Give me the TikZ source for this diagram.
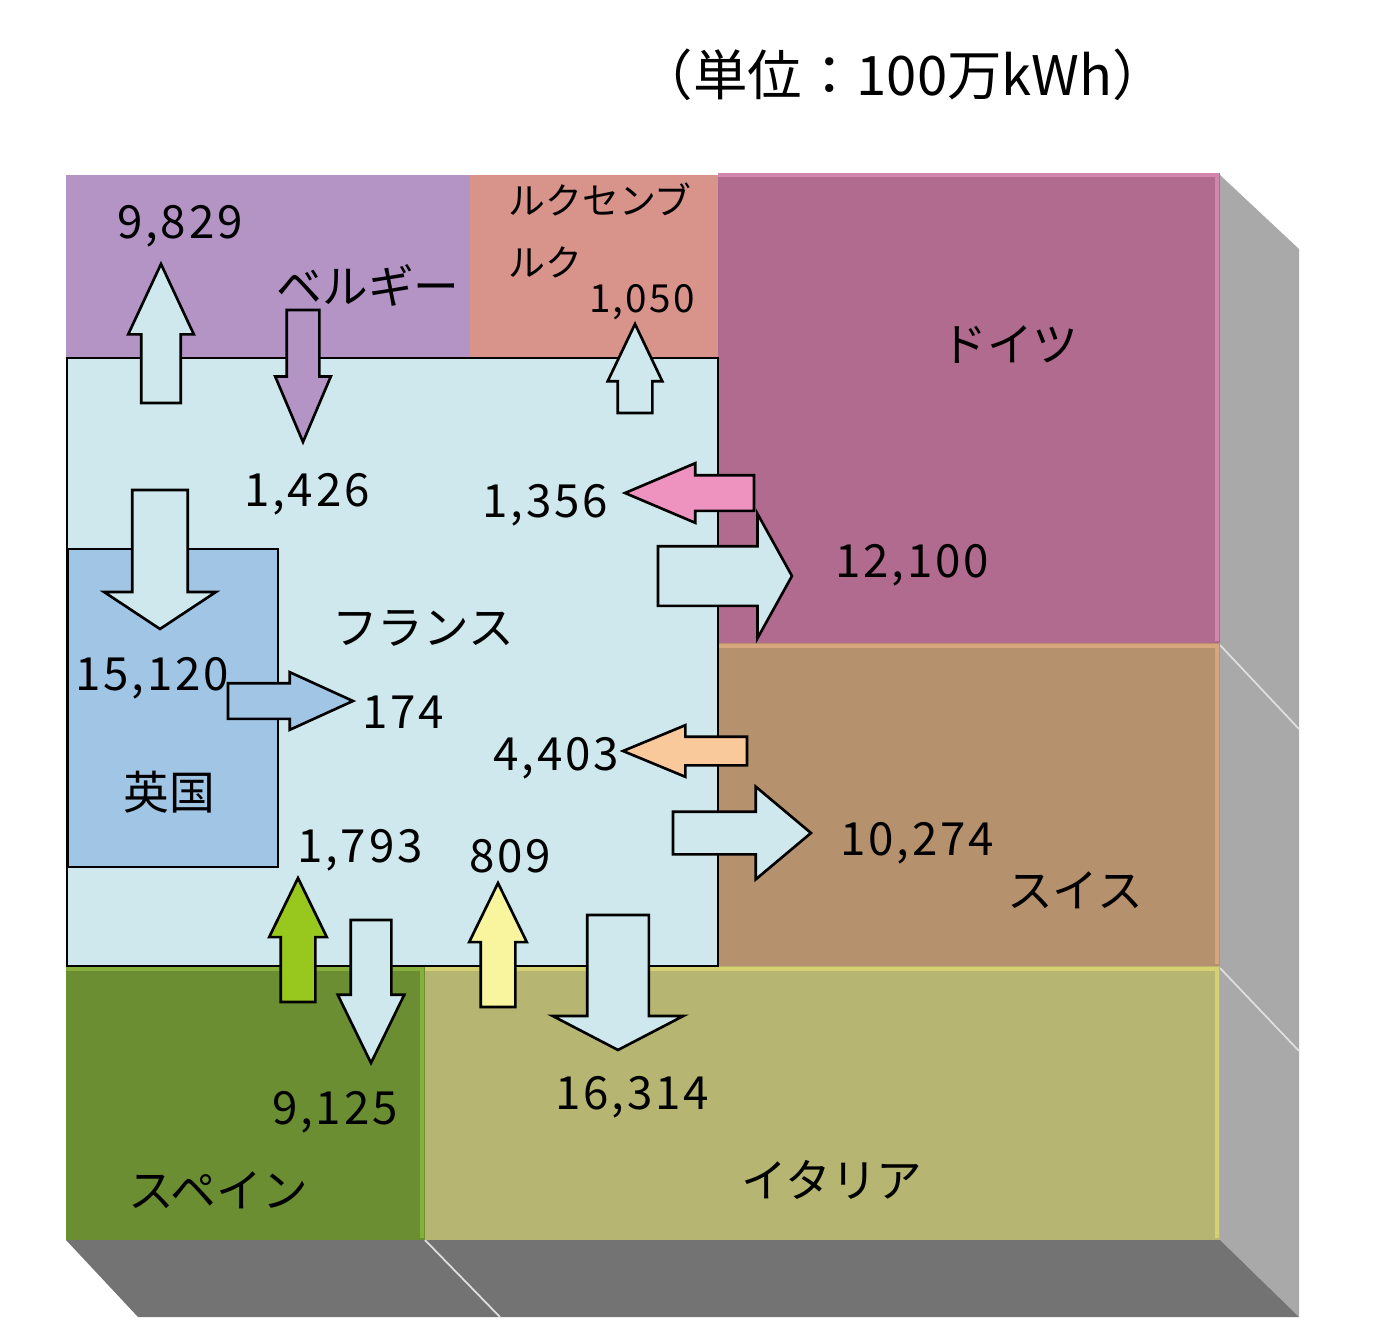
\documentclass[tikz,border=0pt]{standalone}
\usepackage{fontspec}
\newfontfamily\jpfont{Noto Sans CJK JP}
\newfontfamily\numfont[LetterSpace=6]{Noto Sans CJK JP}
\usetikzlibrary{shapes.arrows}

\definecolor{belgcol}{HTML}{B493C5}
\definecolor{luxcol}{HTML}{D8938B}
\definecolor{germcol}{HTML}{B06B8E}
\definecolor{germedge}{HTML}{D286AE}
\definecolor{swisscol}{HTML}{B5916D}
\definecolor{swissedge}{HTML}{D6A67C}
\definecolor{italcol}{HTML}{B6B672}
\definecolor{italedge}{HTML}{D3D170}
\definecolor{spaincol}{HTML}{6C8E32}
\definecolor{spainedge}{HTML}{86B03A}
\definecolor{francol}{HTML}{CFE8ED}
\definecolor{ukcol}{HTML}{A1C5E5}
\definecolor{pinkarr}{HTML}{EE93BF}
\definecolor{peacharr}{HTML}{FAC99B}
\definecolor{greenarr}{HTML}{98C71E}
\definecolor{yellowarr}{HTML}{F8F59E}
\definecolor{sidecol}{HTML}{A9A9A9}
\definecolor{floorcol}{HTML}{737373}

\begin{document}
\begin{tikzpicture}[x=0.02cm, y=-0.02cm,
    flow/.style={single arrow, draw=black, line width=1.5pt, inner xsep=0pt, outer sep=0pt, anchor=tail},
    lbl/.style={font=\jpfont\fontsize{26}{30}\selectfont, inner sep=0pt},
    num/.style={font=\numfont\fontsize{26}{30}\selectfont, inner sep=0pt},
    smallnum/.style={font=\numfont\fontsize{22}{26}\selectfont, inner sep=0pt},
    faceline/.style={draw=white!75!gray, line width=1pt}]
\useasboundingbox (0,0) rectangle (1380,1332);

% 3d faces
\fill[sidecol] (1220,175) -- (1299,249) -- (1299,1317) -- (1220,1240) -- cycle;
\fill[floorcol] (66,1240) -- (1220,1240) -- (1299,1317) -- (138,1317) -- cycle;
\draw[faceline] (1220,645) -- (1299,729);
\draw[faceline] (1220,968) -- (1299,1051);
\draw[faceline] (425,1240) -- (500,1317);

% countries
\fill[belgcol] (66,175) rectangle (470,358);
\fill[luxcol] (470,175) rectangle (718,358);
\fill[germcol] (718,173) rectangle (1220,643);
\fill[swisscol] (718,643) rectangle (1220,966);
\fill[spaincol] (66,966) rectangle (425,1240);
\fill[italcol] (425,966) rectangle (1220,1240);
\draw[germedge, line width=2.5pt] (718,175) -- (1217,175) -- (1217,641);
\draw[swissedge, line width=2.5pt] (718,646) -- (1217,646) -- (1217,964);
\draw[italedge, line width=2.5pt] (425,969) -- (1217,969) -- (1217,1238);
\draw[spainedge, line width=2.5pt] (66,969) -- (422,969) -- (422,1238);

\draw[fill=francol, line width=1.6pt] (67,358) rectangle (718,966);
\draw[fill=ukcol, line width=1.6pt] (68,549) rectangle (278,867);

% flows
\node[flow, fill=francol, rotate=90, minimum height=2.78cm, inner ysep=0.37cm, single arrow head extend=0.26cm, single arrow tip angle=50] (fr2be) at (161,403) {};
\node[flow, fill=belgcol, rotate=-90, minimum height=2.64cm, inner ysep=0.3cm, single arrow head extend=0.23cm, single arrow tip angle=46] (be2fr) at (303,310) {};
\node[flow, fill=francol, rotate=90, minimum height=1.78cm, inner ysep=0.32cm, single arrow head extend=0.2cm, single arrow tip angle=51] (fr2lu) at (635,413) {};
\node[flow, fill=pinkarr, rotate=180, minimum height=2.58cm, inner ysep=0.33cm, single arrow head extend=0.24cm, single arrow tip angle=46] (de2fr) at (754,493) {};
\node[flow, fill=francol, minimum height=2.68cm, inner ysep=0.57cm, single arrow head extend=0.65cm, single arrow tip angle=122] (fr2de) at (658,576) {};
\node[flow, fill=francol, rotate=-90, minimum height=2.78cm, inner ysep=0.53cm, single arrow head extend=0.56cm, single arrow tip angle=113] (fr2uk) at (160,490) {};
\node[flow, fill=ukcol, minimum height=2.5cm, inner ysep=0.33cm, single arrow head extend=0.22cm, single arrow tip angle=49] (uk2fr) at (228,701) {};
\node[flow, fill=peacharr, rotate=180, minimum height=2.48cm, inner ysep=0.26cm, single arrow head extend=0.23cm, single arrow tip angle=45] (ch2fr) at (747,751) {};
\node[flow, fill=francol, minimum height=2.76cm, inner ysep=0.4cm, single arrow head extend=0.5cm, single arrow tip angle=80] (fr2ch) at (673,833) {};
\node[flow, fill=greenarr, rotate=90, minimum height=2.48cm, inner ysep=0.32cm, single arrow head extend=0.23cm, single arrow tip angle=52] (es2fr) at (298,1002) {};
\node[flow, fill=francol, rotate=-90, minimum height=2.86cm, inner ysep=0.38cm, single arrow head extend=0.26cm, single arrow tip angle=52] (fr2es) at (371,920) {};
\node[flow, fill=yellowarr, rotate=90, minimum height=2.48cm, inner ysep=0.32cm, single arrow head extend=0.23cm, single arrow tip angle=52] (it2fr) at (498,1007) {};
\node[flow, fill=francol, rotate=-90, minimum height=2.7cm, inner ysep=0.59cm, single arrow head extend=0.69cm, single arrow tip angle=125] (fr2it) at (618,915) {};

% labels
\node[font=\jpfont\fontsize{31}{36}\selectfont, inner sep=0pt] (unit) at (903,75) {（単位：100万kWh）};
\node[lbl] (belg) at (368,285) {ベルギー};
\node[font=\jpfont\fontsize{21}{35}\selectfont, inner sep=0pt, align=left, anchor=north west] (lux) at (508,183) {ルクセンブ\\ルク};
\node[lbl] (germ) at (1010,345) {ドイツ};
\node[lbl] (fran) at (423,628) {フランス};
\node[lbl] (uk) at (169,792) {英国};
\node[lbl] (swiss) at (1075,890) {スイス};
\node[lbl] (spain) at (218,1190) {スペイン};
\node[lbl] (ital) at (832,1180) {イタリア};

\node[num] (v9829) at (180,226) {9,829};
\node[smallnum] (v1050) at (642,302) {1,050};
\node[num] (v1426) at (307,494) {1,426};
\node[num] (v1356) at (545,505) {1,356};
\node[num] (v12100) at (912,565) {12,100};
\node[num] (v15120) at (152,678) {15,120};
\node[num] (v174) at (403,712) {174};
\node[num] (v4403) at (556,758) {4,403};
\node[num] (v10274) at (917,843) {10,274};
\node[num] (v1793) at (360,850) {1,793};
\node[num] (v809) at (510,856) {809};
\node[num] (v9125) at (335,1112) {9,125};
\node[num] (v16314) at (632,1097) {16,314};
\end{tikzpicture}
\end{document}
